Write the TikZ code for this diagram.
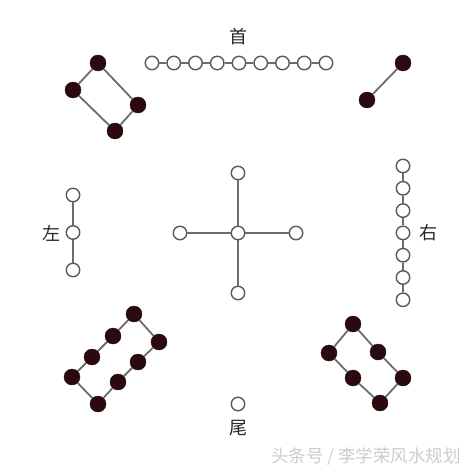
\documentclass[tikz,border=0pt]{standalone}
\usepackage{fontspec}
\newfontfamily\cjk{Noto Sans CJK SC}
\definecolor{yinc}{RGB}{42,10,14}

\begin{document}
\begin{tikzpicture}
[x=1pt,y=-1pt,
 yang/.style = {draw=gray!70!black, fill=white, circle, line width=1.4pt, minimum size=13.5pt, inner sep=0pt},
 yin/.style = {draw=yinc, fill=yinc, circle, minimum size=16pt, inner sep=0pt},
 link/.style = {gray!85!black, line width=1.8pt},
 zi/.style = {font=\cjk\fontsize{18}{18}\selectfont, text=black!85},]
\useasboundingbox (0,0) rectangle (473,473);

% top row (9)
\foreach \i in {1,...,9} \node[yang] (s\i) at ({152+21.75*(\i-1)},63) {};
\foreach \i [count=\j from 2] in {1,...,8} \draw[link] (s\i)--(s\j);
\node[zi] (shou) at (238,37) {首};

% top left (4)
\node[yin] (a1) at (98,63) {};
\node[yin] (a2) at (73,90) {};
\node[yin] (a3) at (115,131) {};
\node[yin] (a4) at (138,105) {};
\draw[link] (a1)--(a2);
\draw[link] (a2)--(a3);
\draw[link] (a3)--(a4);
\draw[link] (a4)--(a1);

% top right (2)
\node[yin] (b1) at (403,63) {};
\node[yin] (b2) at (367,100) {};
\draw[link] (b1)--(b2);

% left (3)
\foreach \i in {1,2,3} \node[yang] (l\i) at (73,{195+37.5*(\i-1)}) {};
\draw[link] (l1)--(l2);
\draw[link] (l2)--(l3);
\node[zi] (zuo) at (51,233) {左};

% right (7)
\foreach \i in {1,...,7} \node[yang] (r\i) at (403,{166+22.3*(\i-1)}) {};
\foreach \i [count=\j from 2] in {1,...,6} \draw[link] (r\i)--(r\j);
\node[zi] (you) at (428,233) {右};

% centre (5)
\node[yang] (c0) at (238,233) {};
\node[yang] (cn) at (238,173) {};
\node[yang] (cs) at (238,293) {};
\node[yang] (cw) at (180,233) {};
\node[yang] (ce) at (296,233) {};
\draw[link] (c0)--(cn);
\draw[link] (c0)--(cs);
\draw[link] (c0)--(cw);
\draw[link] (c0)--(ce);

% bottom left (8)
\node[yin] (d1) at (134,314) {};
\node[yin] (d2) at (113,336) {};
\node[yin] (d3) at (92,357) {};
\node[yin] (d4) at (72,377) {};
\node[yin] (d5) at (98,404) {};
\node[yin] (d6) at (118,382) {};
\node[yin] (d7) at (138,362) {};
\node[yin] (d8) at (159,342) {};
\foreach \i [count=\j from 2] in {1,...,7} \draw[link] (d\i)--(d\j);
\draw[link] (d8)--(d1);

% bottom right (6)
\node[yin] (e1) at (353,324) {};
\node[yin] (e2) at (329,353) {};
\node[yin] (e3) at (353,378) {};
\node[yin] (e4) at (380,403) {};
\node[yin] (e5) at (403,378) {};
\node[yin] (e6) at (378,352) {};
\foreach \i [count=\j from 2] in {1,...,5} \draw[link] (e\i)--(e\j);
\draw[link] (e6)--(e1);

% bottom (1)
\node[yang] (w1) at (238,404) {};
\node[zi] (wei) at (238,428) {尾};

\node[font=\cjk\fontsize{17.5}{17.5}\selectfont, text=gray!40] (mark) at (366,457) {头条号 / 李学荣风水规划};
\end{tikzpicture}
\end{document}
